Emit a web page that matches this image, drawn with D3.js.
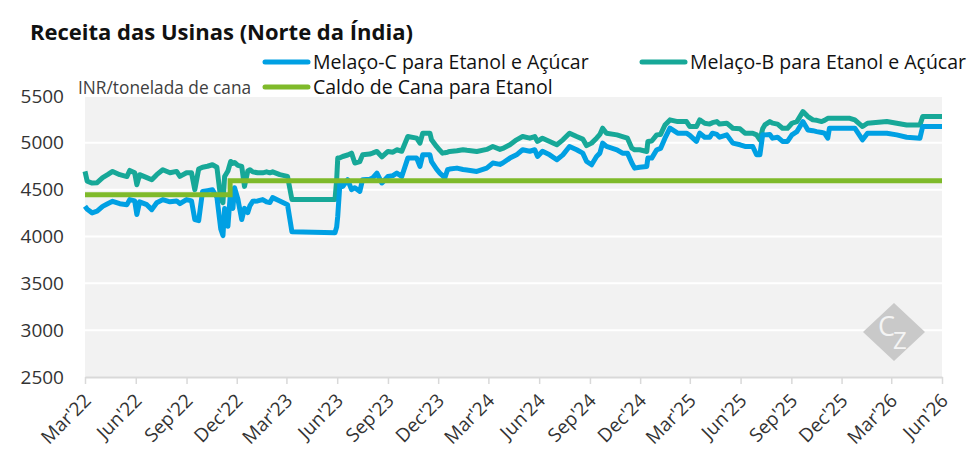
<!DOCTYPE html>
<html>
<head>
<meta charset="utf-8">
<script src="https://cdn.jsdelivr.net/npm/d3@7"></script>
<style>
  body { margin: 0; background: #fff; }
  text { font-family: "Open Sans", sans-serif; }
</style>
</head>
<body>
<div id="chart"></div>
<script>
// Data (INR / tonelada de cana)
var dates = ["2022-03-01","2022-03-05","2022-03-14","2022-03-23","2022-04-02","2022-04-11","2022-04-20","2022-05-03","2022-05-16","2022-05-21",
  "2022-05-30","2022-06-03","2022-06-08","2022-06-21","2022-06-30","2022-07-09","2022-07-20","2022-08-02","2022-08-14","2022-08-20",
  "2022-09-01","2022-09-10","2022-09-16","2022-09-23","2022-09-30","2022-10-09","2022-10-18","2022-10-26","2022-11-02","2022-11-06",
  "2022-11-09","2022-11-15","2022-11-20","2022-11-24","2022-11-27","2022-12-03","2022-12-10","2022-12-15","2022-12-21","2022-12-25",
  "2022-12-30","2023-01-08","2023-01-17","2023-01-24","2023-01-30","2023-02-04","2023-02-17","2023-03-03","2023-03-11","2023-05-28",
  "2023-05-31","2023-06-02","2023-06-06","2023-06-11","2023-06-20","2023-06-27","2023-07-03","2023-07-12","2023-07-17","2023-07-30",
  "2023-08-04","2023-08-12","2023-08-21","2023-09-01","2023-09-10","2023-09-17","2023-09-26","2023-10-07","2023-10-23","2023-10-29",
  "2023-11-03","2023-11-16","2023-11-19","2023-11-28","2023-12-04","2023-12-09","2023-12-13","2023-12-18","2023-12-22","2024-01-04",
  "2024-01-15","2024-01-22","2024-02-09","2024-02-27","2024-03-09","2024-03-22","2024-03-27","2024-04-09","2024-04-21","2024-05-02",
  "2024-05-15","2024-05-24","2024-05-29","2024-06-07","2024-06-20","2024-07-03","2024-07-14","2024-07-26","2024-08-08","2024-08-19",
  "2024-08-26","2024-09-04","2024-09-13","2024-09-19","2024-09-24","2024-10-01","2024-10-20","2024-10-30","2024-11-08","2024-11-16",
  "2024-11-21","2024-11-30","2024-12-13","2024-12-15","2024-12-22","2024-12-31","2025-01-07","2025-01-15","2025-01-24","2025-02-07",
  "2025-02-23","2025-03-01","2025-03-13","2025-03-19","2025-03-28","2025-04-06","2025-04-11","2025-04-19","2025-04-24","2025-05-07",
  "2025-05-18","2025-05-31","2025-06-09","2025-06-23","2025-06-30","2025-07-06","2025-07-11","2025-07-15","2025-07-24","2025-07-29",
  "2025-08-07","2025-08-16","2025-08-25","2025-09-02","2025-09-11","2025-09-22","2025-10-01","2025-10-10","2025-10-17","2025-10-26",
  "2025-10-31","2025-11-06","2025-11-09","2025-12-16","2025-12-25","2026-01-08","2026-01-17","2026-02-21","2026-03-11","2026-03-29",
  "2026-04-22","2026-04-27","2026-06-01"];

var melacoC = [4322,4290,4252,4270,4322,4350,4376,4350,4340,4394,
  4380,4234,4370,4340,4287,4360,4394,4370,4380,4350,
  4394,4380,4181,4170,4480,4490,4500,4420,4080,4010,
  4300,4110,4500,4300,4521,4400,4181,4300,4255,4330,
  4376,4380,4394,4370,4362,4415,4380,4340,4050,4040,
  4100,4216,4571,4535,4606,4500,4520,4482,4606,4610,
  4624,4677,4571,4640,4650,4677,4640,4837,4837,4748,
  4872,4872,4800,4720,4677,4650,4624,4713,4720,4730,
  4715,4710,4695,4730,4784,4770,4784,4837,4872,4926,
  4910,4926,4855,4910,4872,4819,4872,4961,4926,4890,
  4801,4766,4855,4890,4997,4961,4926,4890,4890,4784,
  4730,4740,4748,4837,4837,4926,4940,5050,5156,5103,
  5103,5080,5015,5103,5060,5060,5103,5090,5060,5085,
  4997,4979,4961,4961,4872,4872,5085,5085,5090,5050,
  5060,5015,5015,5085,5120,5227,5138,5130,5120,5110,
  5103,5050,5156,5156,5156,5032,5103,5103,5085,5060,
  5050,5174,5174];

var melacoB = [4695,4590,4570,4575,4628,4660,4695,4660,4640,4705,
  4680,4553,4660,4628,4606,4660,4713,4680,4695,4642,
  4680,4680,4500,4720,4740,4750,4766,4740,4400,4362,
  4640,4700,4801,4780,4790,4760,4748,4535,4700,4713,
  4690,4680,4680,4690,4680,4690,4660,4642,4394,4394,
  4600,4837,4840,4854,4870,4890,4784,4800,4872,4880,
  4890,4908,4850,4908,4900,4926,4910,5067,5050,4997,
  5103,5103,5032,4961,4920,4890,4895,4900,4908,4915,
  4926,4920,4908,4930,4961,4930,4940,4980,5032,5067,
  5050,5067,5015,5050,5015,4979,5032,5103,5067,5040,
  4970,4997,5050,5090,5156,5103,5085,5067,5050,4943,
  4926,4926,4908,5015,5020,5085,5090,5191,5245,5227,
  5227,5174,5174,5245,5209,5200,5215,5227,5200,5210,
  5156,5150,5103,5103,5085,5032,5150,5191,5227,5210,
  5200,5156,5156,5209,5227,5333,5280,5245,5240,5227,
  5240,5262,5262,5262,5245,5174,5209,5227,5209,5191,
  5191,5280,5280];

var caldoDates = ["2022-03-01","2022-11-19","2026-06-01"];
var caldo = [4445,4595,4595];

var yTicks = [2500,3000,3500,4000,4500,5000,5500];
var xTickLabels = ["Mar'22","Jun'22","Sep'22","Dec'22","Mar'23","Jun'23","Sep'23","Dec'23","Mar'24",
  "Jun'24","Sep'24","Dec'24","Mar'25","Jun'25","Sep'25","Dec'25","Mar'26","Jun'26"];

var seriesNames = ["Melaço-C para Etanol e Açúcar","Melaço-B para Etanol e Açúcar","Caldo de Cana para Etanol"];
var seriesColors = ["#00a0e3","#17a898","#7fba2a"];

var svgWidth = 976;
var svgHeight = 471;

var margin = {
  top: 96,
  right: 34,
  bottom: 94,
  left: 85
};

var width = svgWidth - margin.left - margin.right;
var height = svgHeight - margin.top - margin.bottom;

var parseDate = d3.timeParse("%Y-%m-%d");
var parseTick = d3.timeParse("%b'%y");

var svg = d3.select("#chart")
  .append("svg")
  .attr("width", svgWidth)
  .attr("height", svgHeight);

// title
svg.append("text")
  .attr("x", 30)
  .attr("y", 40)
  .attr("font-size", 22)
  .attr("font-weight", "bold")
  .attr("fill", "#111")
  .text("Receita das Usinas (Norte da Índia)");

var chartGroup = svg.append("g")
  .attr("transform", `translate(${margin.left}, ${margin.top})`);

var xScale = d3.scaleTime()
  .domain([parseDate("2022-03-01"), parseDate("2026-06-01")])
  .range([0, width]);

var yScale = d3.scaleLinear()
  .domain([2500, 5500])
  .range([height, 0]);

// plot background
chartGroup.append("rect")
  .attr("width", width)
  .attr("height", height)
  .attr("fill", "#f2f2f2");

// gridlines
chartGroup.selectAll(".grid")
  .data(yTicks.slice(1))
  .enter().append("line")
  .attr("x1", 0)
  .attr("x2", width)
  .attr("y1", d => yScale(d))
  .attr("y2", d => yScale(d))
  .attr("stroke", "#fff")
  .attr("stroke-width", 2);

// y axis labels
var leftAxis = d3.axisLeft(yScale)
  .tickValues(yTicks)
  .tickFormat(d3.format("d"))
  .tickSize(0)
  .tickPadding(21);
var yAxisG = chartGroup.append("g").call(leftAxis);
yAxisG.select(".domain").remove();
yAxisG.selectAll("text")
  .attr("font-size", 19)
  .attr("font-family", "Open Sans, sans-serif")
  .attr("fill", "#333");

// x axis
var bottomAxis = d3.axisBottom(xScale)
  .tickValues(xTickLabels.map(parseTick))
  .tickFormat((d, i) => xTickLabels[i])
  .tickSize(7)
  .tickSizeOuter(0);
var xAxisG = chartGroup.append("g")
  .attr("transform", `translate(0, ${height})`)
  .call(bottomAxis);
xAxisG.select(".domain").attr("stroke", "#d9d9d9").attr("stroke-width", 2);
xAxisG.selectAll(".tick line").attr("stroke", "#d9d9d9").attr("stroke-width", 1.5);
xAxisG.selectAll("text")
  .attr("font-size", 19)
  .attr("font-family", "Open Sans, sans-serif")
  .attr("fill", "#333")
  .attr("text-anchor", "end")
  .attr("transform", "translate(-7, 11) rotate(-45)")
  .attr("dy", "0.5em");

// unit label
svg.append("text")
  .attr("x", 78)
  .attr("y", 94)
  .attr("font-size", 17.3)
  .attr("fill", "#404040")
  .text("INR/tonelada de cana");

// watermark (CZ monogram in a diamond)
var wm = svg.append("g").attr("transform", "translate(894, 332)");
wm.append("path")
  .attr("d", "M0,-29 L31,0 L0,29 L-31,0 Z")
  .attr("fill", "#c9c9c9");
var wmText = wm.append("text")
  .attr("font-family", "Liberation Serif, DejaVu Serif, serif")
  .attr("fill", "#f4f4f4");
wmText.append("tspan")
  .attr("x", -16).attr("y", 4)
  .attr("font-size", 27)
  .text("C");
wmText.append("tspan")
  .attr("x", -1).attr("y", 17)
  .attr("font-size", 24)
  .text("Z");

// lines
var line = d3.line()
  .x(d => xScale(d.date))
  .y(d => yScale(d.value));

var stepLine = d3.line()
  .x(d => xScale(d.date))
  .y(d => yScale(d.value))
  .curve(d3.curveStepAfter);

var dataB = dates.map((d, i) => ({ date: parseDate(d), value: melacoB[i] }));
var dataC = dates.map((d, i) => ({ date: parseDate(d), value: melacoC[i] }));
var dataCaldo = caldoDates.map((d, i) => ({ date: parseDate(d), value: caldo[i] }));

chartGroup.append("path")
  .datum(dataB)
  .attr("d", line)
  .attr("fill", "none")
  .attr("stroke", seriesColors[1])
  .attr("stroke-width", 5)
  .attr("stroke-linejoin", "round");

chartGroup.append("path")
  .datum(dataC)
  .attr("d", line)
  .attr("fill", "none")
  .attr("stroke", seriesColors[0])
  .attr("stroke-width", 5)
  .attr("stroke-linejoin", "round");

chartGroup.append("path")
  .datum(dataCaldo)
  .attr("d", stepLine)
  .attr("fill", "none")
  .attr("stroke", seriesColors[2])
  .attr("stroke-width", 5);

// legend
var legendPos = [[265, 62], [642, 62], [265, 87]];
var legend = svg.selectAll(".legend")
  .data(seriesNames)
  .enter().append("g")
  .attr("transform", (d, i) => `translate(${legendPos[i][0]}, ${legendPos[i][1]})`);

legend.append("line")
  .attr("x1", 0)
  .attr("x2", 43)
  .attr("stroke", (d, i) => seriesColors[i])
  .attr("stroke-width", 5)
  .attr("stroke-linecap", "round");

legend.append("text")
  .attr("x", 48)
  .attr("y", 7)
  .attr("font-size", 19.5)
  .attr("fill", "#111")
  .text(d => d);
</script>
</body>
</html>
